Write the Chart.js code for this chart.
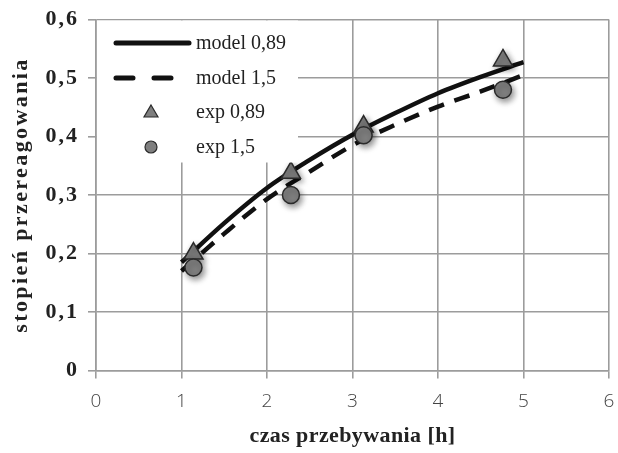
<!DOCTYPE html>
<html>
<head>
<meta charset="utf-8">
<script src="https://cdn.jsdelivr.net/npm/chart.js@4/dist/chart.umd.min.js"></script>
<style>
  html, body { margin: 0; padding: 0; background: #ffffff; }
  #wrap { width: 618px; height: 453px; position: relative; }
</style>
</head>
<body>
<div id="wrap"><canvas id="c" width="618" height="453"></canvas></div>
<script>
// ---- data ----
const modelX    = [1, 1.5, 2, 2.5, 3, 3.5, 4, 4.5, 5];
const model089  = [0.185, 0.252, 0.312, 0.360, 0.403, 0.440, 0.474, 0.502, 0.527];
const model15   = [0.170, 0.234, 0.293, 0.340, 0.385, 0.420, 0.451, 0.477, 0.505];
const expX      = [1.14, 2.28, 3.13, 4.76];
const exp089    = [0.200, 0.338, 0.417, 0.530];
const exp15     = [0.176, 0.300, 0.402, 0.480];
const seriesLabels = ['model 0,89', 'model 1,5', 'exp 0,89', 'exp 1,5'];
const xTitle = 'czas przebywania [h]';
const yTitle = 'stopień przereagowania';

const pts = (xs, ys) => xs.map((x, i) => ({ x: x, y: ys[i] }));

const GRID = '#9c9c9c';
const MARK = '#7f7f7f';

const shadowPlugin = {
  id: 'markerShadow',
  beforeDatasetDraw(chart, args) {
    const ds = chart.data.datasets[args.index];
    if (!ds.showLine) {
      const ctx = chart.ctx;
      ctx.save();
      ctx.shadowColor = 'rgba(0,0,0,0.45)';
      ctx.shadowBlur = 6;
      ctx.shadowOffsetX = 2;
      ctx.shadowOffsetY = 3;
    }
  },
  afterDatasetDraw(chart, args) {
    const ds = chart.data.datasets[args.index];
    if (!ds.showLine) chart.ctx.restore();
  }
};

// widen letter spacing of the axis texts (the reference type is loosely spaced)
function withSpacing(fn, sp) {
  return function () {
    const c = this.ctx;
    const prev = c.letterSpacing;
    c.letterSpacing = sp;
    fn.apply(this, arguments);
    c.letterSpacing = prev || '0px';
  };
}
const spacingPlugin = {
  id: 'spacing',
  afterLayout(chart) {
    const y = chart.scales.y, x = chart.scales.x;
    if (!y._sp) {
      y.drawTitle = withSpacing(y.drawTitle, '2.4px');
      y.drawLabels = withSpacing(y.drawLabels, '2px');
      y._sp = true;
    }
    if (!x._sp) {
      x.drawTitle = withSpacing(x.drawTitle, '0.4px');
      x._sp = true;
    }
  }
};

const insideLegend = {
  id: 'insideLegend',
  afterDraw(chart) {
    const ctx = chart.ctx;
    const area = chart.chartArea;
    ctx.save();
    ctx.fillStyle = '#ffffff';
    ctx.fillRect(area.left + 1, area.top + 1, 201, 142);
    const rows = [43, 78, 112, 147];
    ctx.font = '20px "Liberation Serif", "Times New Roman", serif';
    ctx.textBaseline = 'middle';
    chart.data.datasets.forEach((ds, i) => {
      const y = rows[i];
      if (ds.showLine) {
        ctx.strokeStyle = ds.borderColor;
        ctx.lineWidth = 5;
        ctx.lineCap = 'round';
        ctx.beginPath();
        if (ds.borderDash && ds.borderDash.length) {
          ctx.moveTo(116, y); ctx.lineTo(133, y);
          ctx.moveTo(154, y); ctx.lineTo(171, y);
        } else {
          ctx.moveTo(116, y); ctx.lineTo(189, y);
        }
        ctx.stroke();
      } else {
        ctx.fillStyle = ds.backgroundColor;
        ctx.strokeStyle = ds.borderColor;
        ctx.lineWidth = 1.2;
        ctx.beginPath();
        if (ds.pointStyle === 'triangle') {
          ctx.moveTo(151, y - 7);
          ctx.lineTo(158, y + 5);
          ctx.lineTo(144, y + 5);
          ctx.closePath();
        } else {
          ctx.arc(151, y, 6, 0, Math.PI * 2);
        }
        ctx.fill();
        ctx.stroke();
      }
      ctx.fillStyle = '#222';
      ctx.fillText(ds.label, 196, y + 1);
    });
    ctx.restore();
  }
};

new Chart(document.getElementById('c'), {
  type: 'scatter',
  data: {
    datasets: [
      {
        label: seriesLabels[0],
        data: pts(modelX, model089),
        showLine: true,
        borderColor: '#111',
        borderWidth: 4.5,
        pointRadius: 0,
        tension: 0.4,
        cubicInterpolationMode: 'monotone',
        order: 4
      },
      {
        label: seriesLabels[1],
        data: pts(modelX, model15),
        showLine: true,
        borderColor: '#111',
        borderWidth: 4.5,
        borderDash: [16, 11],
        pointRadius: 0,
        tension: 0.4,
        cubicInterpolationMode: 'monotone',
        order: 3
      },
      {
        label: seriesLabels[2],
        data: pts(expX, exp089),
        showLine: false,
        pointStyle: 'triangle',
        pointRadius: 11,
        backgroundColor: MARK,
        borderColor: '#2a2a2a',
        borderWidth: 1.5,
        order: 2
      },
      {
        label: seriesLabels[3],
        data: pts(expX, exp15),
        showLine: false,
        pointStyle: 'circle',
        pointRadius: 8.5,
        backgroundColor: MARK,
        borderColor: '#2a2a2a',
        borderWidth: 1.5,
        order: 1
      }
    ]
  },
  options: {
    responsive: false,
    animation: false,
    devicePixelRatio: 1,
    layout: { autoPadding: false, padding: { top: 19.5, right: 9, left: 0, bottom: 0 } },
    plugins: {
      legend: { display: false },
      tooltip: { enabled: false }
    },
    scales: {
      x: {
        type: 'linear',
        min: 0, max: 6,
        afterFit(s) { s.height = 82.5; s.paddingLeft = 0; s.paddingRight = 0; },
        ticks: {
          stepSize: 1,
          padding: 12,
          color: '#444',
          font: { family: '"Open Sans", "Liberation Sans", sans-serif', size: 19, weight: 300 }
        },
        grid: { color: GRID, lineWidth: 1.6, tickLength: 8, drawTicks: true },
        border: { color: GRID, width: 1.6 },
        title: {
          display: true,
          text: xTitle,
          color: '#222',
          font: { family: '"Liberation Serif", "Times New Roman", serif', size: 22, weight: 'bold' },
          padding: { top: 0, bottom: 3 }
        }
      },
      y: {
        type: 'linear',
        min: 0, max: 0.6,
        afterFit(s) { s.width = 96; s.paddingTop = 0; s.paddingBottom = 0; },
        ticks: {
          stepSize: 0.1,
          padding: 9,
          color: '#222',
          callback: v => (Math.round(v * 10) / 10).toString().replace('.', ','),
          font: { family: '"Liberation Serif", "Times New Roman", serif', size: 22, weight: 'bold' }
        },
        grid: { color: GRID, lineWidth: 1.6, tickLength: 8, drawTicks: true },
        border: { color: GRID, width: 1.6 },
        title: {
          display: true,
          text: yTitle,
          color: '#222',
          font: { family: '"Liberation Serif", "Times New Roman", serif', size: 22, weight: 'bold' },
          padding: { top: 8, bottom: 0 }
        }
      }
    }
  },
  plugins: [spacingPlugin, shadowPlugin, insideLegend]
});
</script>
</body>
</html>
